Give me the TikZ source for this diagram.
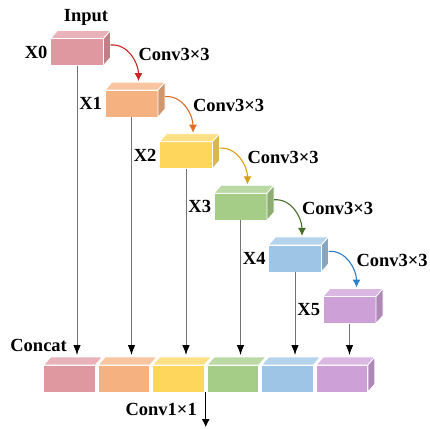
\documentclass[tikz,border=0pt]{standalone}
\usepackage{fontspec}
\setmainfont{Liberation Serif}
\usetikzlibrary{positioning, arrows.meta}

\definecolor{pinkc}{RGB}{224,152,160}
\definecolor{orangec}{RGB}{245,178,128}
\definecolor{yellowc}{RGB}{255,214,92}
\definecolor{greenc}{RGB}{165,205,135}
\definecolor{bluec}{RGB}{158,196,230}
\definecolor{purplec}{RGB}{206,160,216}
\definecolor{redarr}{RGB}{205,35,35}
\definecolor{orangearr}{RGB}{220,110,40}
\definecolor{goldarr}{RGB}{215,160,20}
\definecolor{greenarr}{RGB}{70,110,40}
\definecolor{bluearr}{RGB}{45,125,200}

% top and side faces of a block
\newcommand\topface[2]{%
  \filldraw[fill=#2!75!white, draw=white, line width=0.8pt] (#1.north west) -- ++(7,-8) -- ([shift={(7,-8)}]#1.north east) -- (#1.north east) -- cycle;}
\newcommand\sideface[2]{%
  \filldraw[fill=#2!85!black, draw=white, line width=0.8pt] (#1.north east) -- ++(7,-8) -- ([shift={(7,-8)}]#1.south east) -- (#1.south east) -- cycle;}

\begin{document}
\begin{tikzpicture}[
    x=1pt, y=-1pt,
    >={Latex[length=8pt,width=8pt]},
    every node/.style={outer sep=0pt},
    block/.style={fill=#1, draw=white, line width=0.8pt, minimum width=53pt, minimum height=27pt},
    slab/.style={block=#1, minimum width=51.7pt},
    lbl/.style={font=\bfseries\fontsize{18.5}{20}\selectfont, inner sep=1pt},
    conv/.style={->, line width=1.1pt, draw=#1},
    vline/.style={-{Latex[length=10pt,width=7.5pt,black]}, line width=0.9pt, draw=black!55}
]
\useasboundingbox (0,0) rectangle (430,428);
% the feature blocks
\node[block=pinkc] (x0) at (77,52) {};
\node[block=orangec, below right=24.6pt and 1.5pt of x0] (x1) {};
\node[block=yellowc, below right=24.6pt and 1.5pt of x1] (x2) {};
\node[block=greenc, below right=24.6pt and 1.5pt of x2] (x3) {};
\node[block=bluec, below right=24.6pt and 1.5pt of x3] (x4) {};
\node[block=purplec, below right=24.6pt and 1.5pt of x4] (x5) {};
% the concatenated row
\node[slab=pinkc] (c0) at (69.5,378.5) {};
\node[slab=orangec, right=2.8pt of c0] (c1) {};
\node[slab=yellowc, right=2.8pt of c1] (c2) {};
\node[slab=greenc, right=2.8pt of c2] (c3) {};
\node[slab=bluec, right=2.8pt of c3] (c4) {};
\node[slab=purplec, right=2.8pt of c4] (c5) {};
\foreach \n/\col in {x0/pinkc, x1/orangec, x2/yellowc, x3/greenc, x4/bluec, x5/purplec}
  {\topface{\n}{\col}\sideface{\n}{\col}}
\foreach \n/\col in {c0/pinkc, c1/orangec, c2/yellowc, c3/greenc, c4/bluec, c5/purplec}
  {\topface{\n}{\col}}
\sideface{c5}{purplec}
% labels
\node[lbl, above=12pt of x0.north, xshift=9pt] (input) {Input};
\foreach \i in {0,...,5}
  \node[lbl, left=2pt of x\i] (lx\i) {X\i};
\foreach \i in {0,...,4}
  \node[lbl, right=34pt of x\i.east, yshift=-2pt] (k\i) {Conv3×3};
\node[lbl, above=12pt of c0.north west, xshift=-5pt] (concat) {Concat};
% convolutions
\foreach \i/\j/\col in {0/1/redarr, 1/2/orangearr, 2/3/goldarr, 3/4/greenarr, 4/5/bluearr}
  \draw[conv=\col] ([shift={(7,-7)}]x\i.east) to[out=5, in=90] ([shift={(7,-9)}]x\j.north);
% skip lines down to the concat row
\coordinate (ctop) at ([yshift=10pt]c0.north);
\foreach \i in {0,...,5}
  \draw[vline] (x\i) -- (x\i |- ctop);
% output
\coordinate[below=35pt of c2.south east, xshift=1.4pt] (out);
\draw[->, line width=0.8pt] ([xshift=1.4pt]c2.south east) -- (out)
  node[lbl, pos=0.5, left=8pt] (k5) {Conv1×1};
\end{tikzpicture}
\end{document}
